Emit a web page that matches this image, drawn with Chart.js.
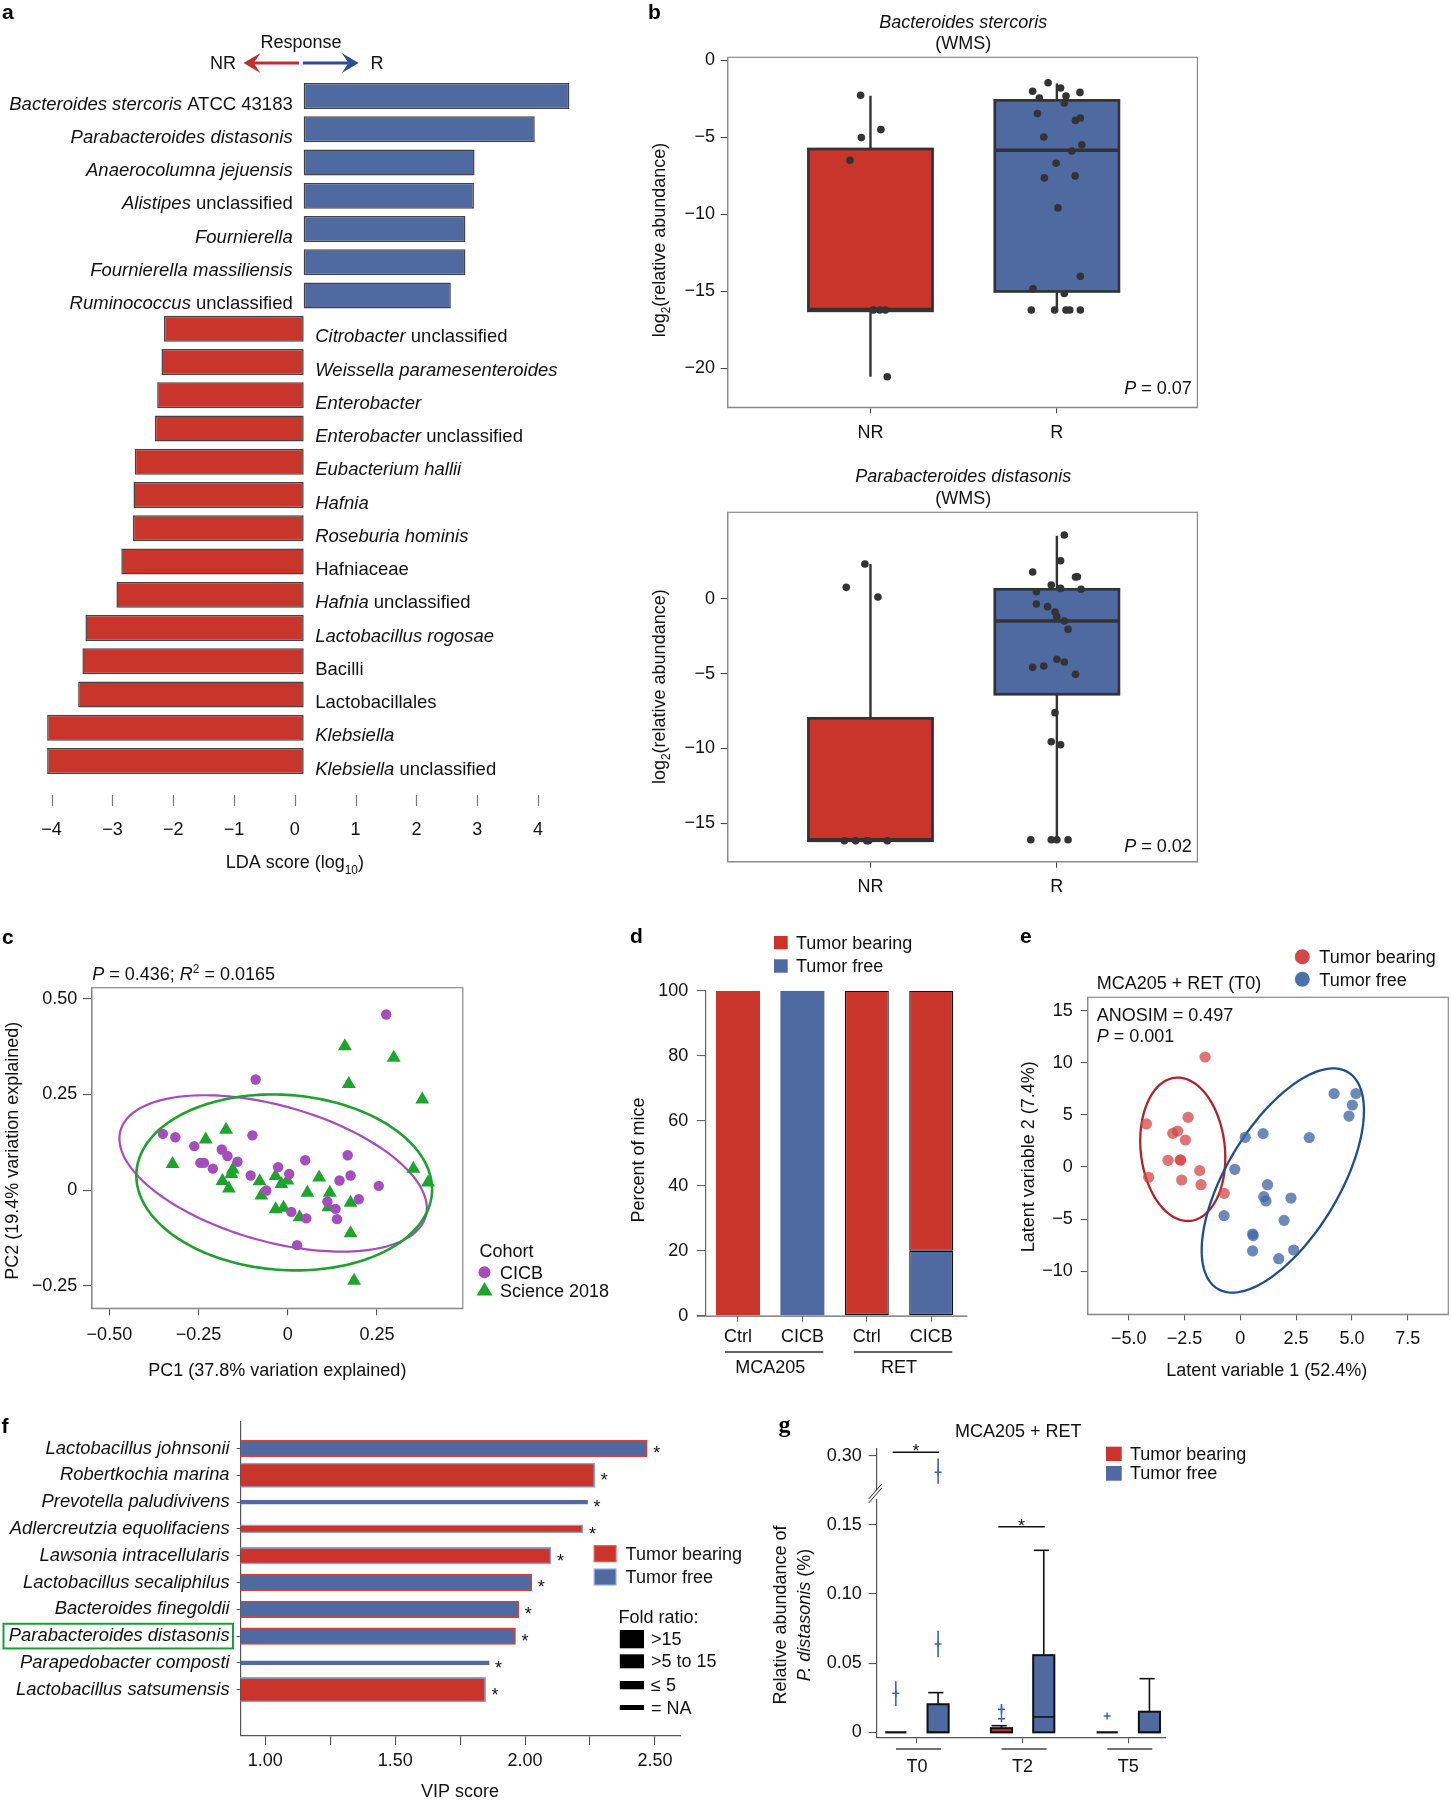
<!DOCTYPE html>
<html><head><meta charset="utf-8">
<script src="https://cdn.jsdelivr.net/npm/chart.js@4.4.1/dist/chart.umd.min.js"></script>
<style>
html,body{margin:0;padding:0;background:#fff;}
body{width:1451px;height:1800px;position:relative;overflow:hidden;}
canvas{position:absolute;}
</style></head><body>
<script>
// ================= DATA =================
// a: LEfSe LDA scores
const ldaTaxa = ["*Bacteroides stercoris* ATCC 43183","*Parabacteroides distasonis*","*Anaerocolumna jejuensis*","*Alistipes* unclassified","*Fournierella*","*Fournierella massiliensis*","*Ruminococcus* unclassified","*Citrobacter* unclassified","*Weissella paramesenteroides*","*Enterobacter*","*Enterobacter* unclassified","*Eubacterium hallii*","*Hafnia*","*Roseburia hominis*","Hafniaceae","*Hafnia* unclassified","*Lactobacillus rogosae*","Bacilli","Lactobacillales","*Klebsiella*","*Klebsiella* unclassified"];
const ldaScores = [4.37,3.80,2.81,2.80,2.66,2.66,2.42,-2.30,-2.34,-2.41,-2.45,-2.78,-2.80,-2.81,-3.00,-3.08,-3.59,-3.64,-3.71,-4.22,-4.22];
const ldaTicks = [-4,-3,-2,-1,0,1,2,3,4];

// b: box plots  [low whisker, q1, median, q3, high whisker]  for NR, R
const bGroups = ["NR","R"];
const bsBox = [[-20.56,-16.28,-16.2,-5.76,-2.3],[-16.23,-15.02,-5.84,-2.6,-1.5]];
const bsNRpts = [[-0.053,-2.27],[0.056,-4.5],[-0.049,-5.02],[-0.11,-6.49],[0.015,-16.23],[0.05,-16.23],[0.08,-16.23],[0.09,-20.56]];
const bsRpts = [[-0.047,-1.45],[-0.13,-2.01],[0.02,-1.8],[0.124,-2.08],[-0.094,-2.45],[0.049,-2.32],[0.04,-2.77],[-0.104,-3.46],[0.1,-3.9],[0.126,-3.75],[-0.07,-4.98],[0.134,-5.48],[0.08,-5.89],[-0.004,-6.69],[-0.067,-7.64],[0.098,-7.51],[0.006,-9.59],[0.126,-14.03],[-0.128,-14.85],[0.04,-15.15],[-0.137,-16.23],[-0.012,-16.23],[0.049,-16.23],[0.069,-16.23],[0.126,-16.23]];
const bsTicks = [0,-5,-10,-15,-20];
const pdBox = [[-16.17,-16.17,-16.1,-7.98,2.34],[-16.17,-6.37,-1.47,0.65,4.23]];
const pdNRpts = [[-0.13,0.78],[-0.03,2.34],[0.04,0.13],[-0.14,-16.17],[-0.08,-16.17],[-0.02,-16.17],[-0.01,-16.17],[0.09,-16.17]];
const pdRpts = [[0.04,4.28],[0.02,2.56],[-0.13,1.81],[0.1,1.47],[0.11,1.49],[-0.03,0.94],[0.02,0.71],[-0.11,0.49],[0.13,0.65],[-0.11,-0.33],[-0.05,-0.51],[-0.01,-0.87],[0,-1.18],[0.04,-1.47],[0.06,-2.03],[0,-4.03],[0.04,-4.21],[-0.13,-4.57],[-0.07,-4.48],[0.1,-5.04],[-0.01,-7.6],[-0.03,-9.55],[0.02,-9.75],[-0.14,-16.1],[-0.03,-16.1],[0,-16.1],[0.06,-16.1]];
const pdTicks = [0,-5,-10,-15];

// c: PCoA
const cicbPC = [[0.276,0.459],[-0.090,0.289],[-0.350,0.147],[-0.315,0.138],[-0.262,0.115],[-0.185,0.106],[-0.169,0.089],[-0.141,0.074],[-0.245,0.071],[-0.235,0.071],[-0.210,0.056],[-0.099,0.143],[-0.104,0.038],[-0.027,0.060],[0.004,0.042],[0.049,0.078],[0.168,0.091],[0.176,0.038],[0.145,0.025],[0.255,0.011],[0.199,-0.024],[0.111,-0.030],[0.134,-0.049],[0.138,-0.076],[-0.060,-0.001],[0.010,-0.057],[0.052,-0.074],[0.026,-0.144]];
const sciPC = [[0.160,0.376],[0.297,0.346],[0.171,0.277],[0.377,0.237],[-0.173,0.158],[-0.230,0.132],[-0.323,0.068],[-0.154,0.054],[-0.158,0.042],[-0.183,0.024],[-0.165,0.004],[-0.079,0.023],[-0.074,-0.014],[-0.034,0.037],[-0.018,0.016],[-0.001,0.025],[0.088,0.033],[0.055,-0.007],[0.118,-0.007],[0.176,-0.033],[-0.034,-0.050],[-0.012,-0.046],[0.033,-0.071],[0.114,-0.045],[0.176,-0.113],[0.352,0.056],[0.393,0.020],[0.186,-0.237]];
// ellipse: [cx, cy, u_x, u_y, v_x, v_y] (conjugate semi-axes, data units)
const cicbEllipse = [-0.041,0.0435,0.424,-0.122,-0.0762,-0.164];
const sciEllipse = [-0.010,0.020,0.414,-0.007,0.020,-0.2298];
const cTicksX = [-0.5,-0.25,0,0.25];
const cTicksY = [0.5,0.25,0,-0.25];

// d: stacked percent
const dCats = ["Ctrl","CICB","Ctrl","CICB"];
const dModels = ["MCA205","RET"];
const dTumorBearing = [100,0,100,80];
const dTumorFree = [0,100,0,20];
const dTicks = [0,20,40,60,80,100];

// e: PLS-DA
const eBearing = [[-1.58,10.56],[-4.21,4.13],[-2.34,4.77],[-3.03,3.23],[-2.81,3.45],[-2.46,2.59],[-3.24,0.64],[-2.70,0.67],[-2.67,0.67],[-4.11,-0.99],[-1.82,-0.35],[-2.63,-1.25],[-1.76,-1.70],[-0.72,-2.53]];
const eFree = [[4.20,7.04],[5.18,7.04],[5.02,5.95],[4.87,4.89],[0.22,2.85],[1.02,3.20],[3.09,2.82],[-0.25,-0.22],[1.22,-1.70],[1.05,-2.85],[1.15,-3.26],[2.27,-2.98],[-0.73,-4.67],[1.96,-5.12],[0.55,-6.43],[0.58,-6.59],[0.55,-8.06],[1.72,-8.80],[2.39,-7.97]];
const eBearingEllipse = [-2.58,1.70,1.897,-0.16,0.179,-6.88];
const eFreeEllipse = [1.904,-1.296,2.846,0,2.263,10.76];
const eTicksX = [-5,-2.5,0,2.5,5,7.5];
const eTicksY = [15,10,5,0,-5,-10];

// f: VIP scores
const vipTaxa = ["Lactobacillus johnsonii","Robertkochia marina","Prevotella paludivivens","Adlercreutzia equolifaciens","Lawsonia intracellularis","Lactobacillus secaliphilus","Bacteroides finegoldii","Parabacteroides distasonis","Parapedobacter composti","Lactobacillus satsumensis"];
const vipScores = [2.470,2.268,2.240,2.223,2.100,2.026,1.976,1.963,1.861,1.848];
const vipGroup = ["free","bearing","free","bearing","bearing","free","free","free","free","bearing"];
const vipFold = [">5 to 15",">15","= NA","≤ 5",">5 to 15",">5 to 15",">5 to 15",">5 to 15","= NA",">15"];
const foldClasses = [">15",">5 to 15","≤ 5","= NA"];
const vipHighlight = "Parabacteroides distasonis";
const vipTicks = [1,1.25,1.5,1.75,2,2.25,2.5];
const vipLabelled = [1,1.5,2,2.5];

// g: P. distasonis relative abundance  [low, q1, median, q3, high]
const gTimes = ["T0","T2","T5"];
const gBearingBox = [[0,0,0,0,0],[0,0,0,0.003,0.0048],[0,0,0,0,0]];
const gFreeBox = [[0,0,0,0.0203,0.0287],[0,0,0.0111,0.0558,0.1316],[0,0,0,0.0149,0.0388]];
// [time index, group (0 bearing, 1 free), value, low, high]
const gOutliers = [[0,0,0.0283,0.019,0.037],[0,1,0.0638,0.0543,0.0734],[0,1,0.288,0.2795,0.298],[1,0,0.0167,0.0125,0.0205],[1,0,0.0099,0.0099,0.0099],[2,0,0.0118,0.0118,0.0118]];
const gTicksLow = [0,0.05,0.10,0.15];
const gTicksHigh = [0.30];
const gSignif = [[0,0.3027,'yTop'],[1,0.1486,'yBot']];

// ================= STYLE / HELPERS =================
const FONT = '"Liberation Sans", Arial, Helvetica, sans-serif';
const RED = '#C9352B', BLUE = '#4F69A1';
Chart.defaults.font.family = FONT;
Chart.defaults.font.size = 18;
Chart.defaults.color = '#111';
Chart.defaults.animation = false;
Chart.defaults.events = [];
Chart.defaults.plugins.legend.display = false;
Chart.defaults.plugins.tooltip.enabled = false;

function mk(l,t,w,h){ const c=document.createElement('canvas'); c.width=w; c.height=h; Object.assign(c.style,{left:l+'px',top:t+'px',width:w+'px',height:h+'px'}); document.body.appendChild(c); return c; }
function num(v,d){ if(Math.abs(v)<1e-9) return '0'; return (v<0?'\u2212':'')+Math.abs(v).toFixed(d); }
function zeroPad(s){ s.paddingLeft=0; s.paddingRight=0; s.paddingTop=0; s.paddingBottom=0; }
function lin(o){
  const s = {
    type: o.type||'linear', min:o.min, max:o.max, reverse:!!o.reverse, position:o.position,
    stack:o.stack, stackWeight:o.stackWeight, offset:!!o.offset,
    grid:{display:!!o.tl, drawOnChartArea:false, drawTicks:!!o.tl, tickLength:o.tl||0, color:o.tickColor||'#555', lineWidth:1.1, offset:false},
    border:{display:o.border!==false, color:o.borderColor||'#555', width:1.2},
    ticks:{display:o.showTicks!==false, padding:o.pad||0, labelOffset:o.labelOffset||0, font:o.font||{size:18}, color:'#111', callback:o.cb, autoSkip:false, maxRotation:0, minRotation:0},
    afterFit: (o.w!=null) ? (sc=>{sc.width=o.w; zeroPad(sc);}) : (sc=>{sc.height=o.h; zeroPad(sc);})
  };
  if (o.ticksAt) s.afterBuildTicks = sc => { sc.ticks = o.ticksAt.map(v=>({value:v})); };
  Object.keys(s).forEach(k=>{ if(s[k]===undefined) delete s[k]; });
  if (s.ticks.callback===undefined) delete s.ticks.callback;
  return s;
}
function opts(pad, scales, extra){ return Object.assign({responsive:false, maintainAspectRatio:false, devicePixelRatio:1, layout:{padding:pad, autoPadding:false}, scales}, extra||{}); }

function parseRich(s){
  const segs=[]; let it=false, buf='', i=0;
  const push=()=>{ if(buf){ segs.push({t:buf,it,sc:0}); buf=''; } };
  while(i<s.length){ const c=s[i];
    if(c==='*'){ push(); it=!it; i++; }
    else if((c==='_'||c==='^') && s[i+1]==='{'){ push(); const j=s.indexOf('}',i); segs.push({t:s.slice(i+2,j),it,sc:c==='_'?-1:1}); i=j+1; }
    else { buf+=c; i++; } }
  push(); return segs;
}
function rich(ctx,s,x,y,o={}){
  const size=o.size||18, segs=parseRich(s);
  ctx.save(); ctx.fillStyle=o.color||'#111'; ctx.textBaseline='alphabetic'; ctx.textAlign='left';
  const font=sg=>`${sg.it?'italic ':''}${o.bold?'bold ':''}${sg.sc?size*0.66:size}px ${o.family||FONT}`;
  let w=0; segs.forEach(sg=>{ ctx.font=font(sg); sg.w=ctx.measureText(sg.t).width; w+=sg.w; });
  ctx.translate(x,y); if(o.rot) ctx.rotate(o.rot);
  let cx = o.align==='right' ? -w : o.align==='center' ? -w/2 : 0;
  const base=size*0.36;
  segs.forEach(sg=>{ ctx.font=font(sg); const dy = sg.sc===-1 ? size*0.28 : sg.sc===1 ? -size*0.4 : 0; ctx.fillText(sg.t,cx,base+dy); cx+=sg.w; });
  ctx.restore(); return w;
}
function frame(ch,color){ const a=ch.chartArea, c=ch.ctx; c.save(); c.strokeStyle=color||'#8a8a8a'; c.lineWidth=1.2; c.strokeRect(a.left,a.top,a.right-a.left,a.bottom-a.top); c.restore(); }
function ellipse(ctx,xs,ys,e,color,lw){ ctx.save(); ctx.strokeStyle=color; ctx.lineWidth=lw; ctx.beginPath();
  for(let i=0;i<=200;i++){ const t=i/200*2*Math.PI; const X=e[0]+e[2]*Math.cos(t)+e[4]*Math.sin(t), Y=e[1]+e[3]*Math.cos(t)+e[5]*Math.sin(t);
    const px=xs.getPixelForValue(X), py=ys.getPixelForValue(Y); i?ctx.lineTo(px,py):ctx.moveTo(px,py); }
  ctx.closePath(); ctx.stroke(); ctx.restore(); }
function line(ctx,x1,y1,x2,y2){ ctx.beginPath(); ctx.moveTo(x1,y1); ctx.lineTo(x2,y2); ctx.stroke(); }
const toPts = (arr,xc)=>arr.map(([dx,y])=>({x:xc+dx,y}));
const xy = arr=>arr.map(([x,y])=>({x,y}));

// ================= PANEL a =================
const aPlug = { id:'aPlug', afterDatasetsDraw(ch){
  const {ctx, scales:{x,y}} = ch; const x0=x.getPixelForValue(0);
  ldaScores.forEach((v,i)=>{ const yy=y.getPixelForValue(i)+7;
    rich(ctx, ldaTaxa[i], v>0? x0-11 : x0+11.5, yy, {align: v>0?'right':'left', size:18.5}); });
  ctx.save(); ctx.strokeStyle='#777'; ctx.lineWidth=1.2;
  ldaTicks.forEach(t=>{ const px=Math.round(x.getPixelForValue(t)-8.9)+0.5; line(ctx,px,795,px,806); });
  ctx.restore();
}};
new Chart(mk(0,0,600,900), {
  type:'bar',
  data:{labels:ldaTaxa.map(s=>s.replace(/\*/g,'')), datasets:[{data:ldaScores, backgroundColor:ldaScores.map(v=>v>0?BLUE:RED), borderColor:'#444', borderWidth:1.5, borderSkipped:false, barPercentage:0.782, categoryPercentage:1}]},
  options: opts({left:36.2,right:22.7,top:79.4,bottom:0}, {
    y:{type:'category', display:false, offset:true},
    x: lin({min:-4.4, max:4.5, ticksAt:ldaTicks, tl:0, border:false, pad:41.6, labelOffset:-8.9, cb:v=>num(v,0), h:122.4})
  }, {indexAxis:'y'}),
  plugins:[aPlug]
});

// ================= PANEL b =================
function drawBoxB(ctx,x,y,xc,hw,st,fill){
  const [lo,q1,med,q3,hi]=st; const L=x.getPixelForValue(xc-hw), R=x.getPixelForValue(xc+hw), C=x.getPixelForValue(xc);
  ctx.save(); ctx.strokeStyle='#333'; ctx.lineWidth=2.4;
  line(ctx,C,y.getPixelForValue(hi),C,y.getPixelForValue(q3)); line(ctx,C,y.getPixelForValue(q1),C,y.getPixelForValue(lo));
  const T=y.getPixelForValue(q3), B=y.getPixelForValue(q1);
  ctx.fillStyle=fill; ctx.fillRect(L,T,R-L,B-T); ctx.lineWidth=2.7; ctx.strokeRect(L,T,R-L,B-T);
  ctx.lineWidth=3.6; const M=y.getPixelForValue(med); line(ctx,L,M,R,M); ctx.restore();
}
function boxPlugB(boxes){ return { id:'boxb', beforeDatasetsDraw(ch){ const {ctx,scales:{x,y}}=ch; boxes.forEach((st,i)=>drawBoxB(ctx,x,y,i+1,0.333,st,[RED,BLUE][i])); }, afterDraw(ch){ frame(ch,'#8a8a8a'); } }; }
function bChart(top, padTop, xh, ymin, ymax, ticks, box, nr, r){
  new Chart(mk(630,top,600,450), { type:'scatter',
    data:{datasets:[{data:toPts(nr,1).concat(toPts(r,2)), backgroundColor:'#333', pointRadius:3.8, borderWidth:0}]},
    options: opts({left:0,right:32.6,top:padTop,bottom:0}, {
      x: lin({min:0.234, max:2.754, ticksAt:[1,2], tl:6, pad:8.6, cb:v=>bGroups[v-1], h:xh, tickColor:'#444', borderColor:'#8a8a8a'}),
      y: lin({min:ymin, max:ymax, ticksAt:ticks, tl:7, pad:5.7, cb:v=>num(v,0), w:97.7, tickColor:'#444', borderColor:'#8a8a8a'})
    }),
    plugins:[boxPlugB(box)]
  });
}
bChart(0, 57.3, 42.7, -22.55, 0.2, bsTicks, bsBox, bsNRpts, bsRpts);
bChart(450, 62.3, 38.3, -17.57, 5.80, pdTicks, pdBox, pdNRpts, pdRpts);

// ================= PANEL c =================
const PURPLE='#A64DBE', GREEN='#1DA52B';
new Chart(mk(0,920,620,480), { type:'scatter',
  data:{datasets:[
    {data:xy(cicbPC), pointStyle:'circle', pointRadius:5.2, backgroundColor:PURPLE, borderWidth:0},
    {data:xy(sciPC), pointStyle:'triangle', pointRadius:8, backgroundColor:GREEN, borderWidth:0}
  ]},
  options: opts({left:0,right:157.2,top:67.7,bottom:0}, {
    x: lin({min:-0.549, max:0.4906, ticksAt:cTicksX, tl:7, pad:8.9, cb:v=>num(v,2), h:91.7, borderColor:'#8a8a8a'}),
    y: lin({min:-0.309, max:0.529, ticksAt:cTicksY, tl:9, pad:5.6, cb:v=>num(v,2), w:91.9, borderColor:'#8a8a8a'})
  }),
  plugins:[{id:'cPlug', beforeDatasetsDraw(ch){ const {ctx,scales:{x,y}}=ch; ellipse(ctx,x,y,cicbEllipse,PURPLE,2.2); ellipse(ctx,x,y,sciEllipse,'#1FA030',2.6); }, afterDraw(ch){ frame(ch,'#8a8a8a'); }}]
});

// ================= PANEL d =================
new Chart(mk(620,920,380,480), { type:'bar',
  data:{labels:dCats, datasets:[
    {label:'Tumor free', data:dTumorFree, backgroundColor:BLUE, borderColor:c=>c.dataIndex>=2?'#111':BLUE, borderWidth:c=>c.dataIndex>=2?1.3:0, borderSkipped:false, barPercentage:0.683, categoryPercentage:1},
    {label:'Tumor bearing', data:dTumorBearing, backgroundColor:RED, borderColor:c=>c.dataIndex>=2?'#111':RED, borderWidth:c=>c.dataIndex>=2?1.3:0, borderSkipped:false, barPercentage:0.683, categoryPercentage:1}
  ]},
  options: opts({left:0,right:36.6,top:70.7,bottom:0}, {
    x: Object.assign(lin({type:'category', offset:true, tl:6, pad:4.5, h:84.3, border:false, tickColor:'#666'}), {stacked:true}),
    y: Object.assign(lin({min:0, max:100, ticksAt:dTicks, tl:9, pad:8.5, cb:v=>String(v), w:85.8, borderColor:'#666', tickColor:'#666'}), {stacked:true})
  }),
  plugins:[{id:'dPlug', afterDraw(ch){ const {ctx,chartArea:a,scales:{x}}=ch; ctx.save();
    ctx.strokeStyle='#666'; ctx.lineWidth=1.3; line(ctx,a.left-9,a.bottom+0.5,a.right+4,a.bottom+0.5);
    dModels.forEach((g,k)=>{ const x1=x.getPixelForValue(2*k)-13, x2=x.getPixelForValue(2*k+1)+21;
      ctx.strokeStyle='#333'; ctx.lineWidth=1.6; line(ctx,x1,a.bottom+36.3,x2,a.bottom+36.3);
      rich(ctx,g,(x1+x2)/2-4,a.bottom+51,{align:'center'}); });
    ctx.restore(); }}]
});

// ================= PANEL e =================
new Chart(mk(1000,920,451,480), { type:'scatter',
  data:{datasets:[
    {data:xy(eBearing), pointRadius:5.6, backgroundColor:'rgba(212,70,70,0.75)', borderWidth:0},
    {data:xy(eFree), pointRadius:5.6, backgroundColor:'rgba(66,104,165,0.78)', borderWidth:0}
  ]},
  options: opts({left:0,right:2.7,top:77.3,bottom:0}, {
    x: lin({min:-6.84, max:9.32, ticksAt:eTicksX, tl:6, pad:8.2, cb:v=>num(v,1), h:85.7, borderColor:'#8a8a8a'}),
    y: lin({min:-14.14, max:16.29, ticksAt:eTicksY, tl:7, pad:8, cb:v=>num(v,0), w:87.7, borderColor:'#8a8a8a'})
  }),
  plugins:[{id:'ePlug', beforeDatasetsDraw(ch){ const {ctx,scales:{x,y}}=ch; ellipse(ctx,x,y,eBearingEllipse,'#B2222A',2.3); ellipse(ctx,x,y,eFreeEllipse,'#1F4E8C',2.3); }, afterDraw(ch){ frame(ch,'#8a8a8a'); }}]
});

// ================= PANEL f =================
const foldThickness = [24.5,16.6,8.3,3.7];
new Chart(mk(0,1400,760,400), { type:'bar',
  data:{datasets: foldClasses.map((fc,k)=>{
    const rows = vipScores.map((v,i)=>i).filter(i=>vipFold[i]===fc);
    return { data: rows.map(i=>({x:vipScores[i], y:i+1})), stack:'vip', barThickness:foldThickness[k],
      backgroundColor: rows.map(i=>vipGroup[i]==='free'?BLUE:RED),
      borderColor: rows.map(i=> k===3 ? (vipGroup[i]==='free'?BLUE:RED) : (vipGroup[i]==='free'?'#D8403A':'#7FA6DA')),
      borderWidth: k===3?0:1.6, borderSkipped:false };
  })},
  options: opts({left:0,right:79.8,top:21.7,bottom:0}, {
    y: lin({min:0, max:11.73, reverse:true, ticksAt:vipTaxa.map((t,i)=>i+1), tl:4, pad:7, cb:v=>vipTaxa[v-1], w:240.6, font:{size:18.4, style:'italic'}, borderColor:'#555'}),
    x: lin({min:0.905, max:2.597, ticksAt:vipTicks, tl:9, pad:4.9, cb:v=>vipLabelled.includes(v)?v.toFixed(2):'', h:64, borderColor:'#555'})
  }, {indexAxis:'y'}),
  plugins:[{id:'fPlug', afterDatasetsDraw(ch){ const {ctx,chartArea:a,scales:{x,y}}=ch; ctx.save();
    ctx.fillStyle='#111'; ctx.font=`18px ${FONT}`; ctx.textBaseline='alphabetic';
    vipScores.forEach((v,i)=>{ ctx.fillText('*', x.getPixelForValue(v)+6, y.getPixelForValue(i+1)+11); });
    const hi=vipTaxa.indexOf(vipHighlight); const py=y.getPixelForValue(hi+1);
    ctx.font=`italic 18.4px ${FONT}`; const w=ctx.measureText(vipHighlight).width; const right=a.left-11;
    ctx.strokeStyle='#1E9E3A'; ctx.lineWidth=2; ctx.strokeRect(right-w-5.3, py-12.3, w+8.7, 24.7);
    ctx.restore(); }}]
});

// ================= PANEL g =================
function drawBoxG(ctx,x,y,xc,hw,st,fill){
  const [lo,q1,med,q3,hi]=st; const L=x.getPixelForValue(xc-hw), R=x.getPixelForValue(xc+hw), C=x.getPixelForValue(xc);
  ctx.save(); ctx.strokeStyle='#111'; ctx.lineWidth=1.6;
  const T=y.getPixelForValue(q3), B=y.getPixelForValue(q1);
  if (hi>q3){ const H=y.getPixelForValue(hi); line(ctx,C,T,C,H); line(ctx,L+(R-L)*0.03,H,L+(R-L)*0.75,H); }
  if (Math.abs(B-T)<0.5){ ctx.lineWidth=2.2; line(ctx,L,T,R,T); }
  else { ctx.fillStyle=fill; ctx.fillRect(L,T,R-L,B-T); ctx.lineWidth=2; ctx.strokeRect(L,T,R-L,B-T); ctx.lineWidth=1.6; const M=y.getPixelForValue(med); line(ctx,L,M,R,M); }
  ctx.restore();
}
const gOff = [-0.2, 0.2];
new Chart(mk(760,1400,520,400), { type:'scatter',
  data:{datasets:[
    {data:gOutliers.filter(o=>o[2]<0.2).map(o=>({x:o[0]+1+gOff[o[1]], y:o[2]})), yAxisID:'yBot', pointStyle:'cross', pointRadius:3.5, borderColor:'#3D63C0', borderWidth:1.5},
    {data:gOutliers.filter(o=>o[2]>=0.2).map(o=>({x:o[0]+1+gOff[o[1]], y:o[2]})), yAxisID:'yTop', pointStyle:'cross', pointRadius:3.5, borderColor:'#3D63C0', borderWidth:1.5}
  ]},
  options: opts({left:0,right:114.3,top:49,bottom:0}, {
    x: lin({min:0.619, max:3.354, ticksAt:[1,2,3], tl:6, pad:12.6, cb:v=>gTimes[v-1], h:62.7, borderColor:'#555'}),
    yBot: lin({position:'left', stack:'g', stackWeight:237.3, min:-0.0036, max:0.168, ticksAt:gTicksLow, tl:8, pad:7, cb:v=>v===0?'0':v.toFixed(2), w:116.7, borderColor:'#555'}),
    yGap: lin({position:'left', stack:'g', stackWeight:10, min:0, max:1, tl:0, border:false, showTicks:false, w:116.7}),
    yTop: lin({position:'left', stack:'g', stackWeight:41, min:0.275, max:0.305, ticksAt:gTicksHigh, tl:8, pad:7, cb:v=>v.toFixed(2), w:116.7, borderColor:'#555'})
  }),
  plugins:[{id:'gPlug',
    beforeDatasetsDraw(ch){ const {ctx,scales:{x,yBot}}=ch;
      gTimes.forEach((t,i)=>{ drawBoxG(ctx,x,yBot,i+1+gOff[0],0.1,gBearingBox[i],RED); drawBoxG(ctx,x,yBot,i+1+gOff[1],0.1,gFreeBox[i],BLUE); });
      ctx.save(); ctx.strokeStyle='#3D63C0'; ctx.lineWidth=1.6;
      gOutliers.forEach(o=>{ const ys = o[2]>=0.2 ? ch.scales.yTop : yBot; const px=x.getPixelForValue(o[0]+1+gOff[o[1]]);
        if (o[4]>o[3]) line(ctx,px,ys.getPixelForValue(o[3]),px,ys.getPixelForValue(o[4])); });
      ctx.restore(); },
    afterDraw(ch){ const {ctx,chartArea:a,scales:{x,yTop,yBot}}=ch; ctx.save();
      ctx.strokeStyle='#111'; ctx.lineWidth=1.5;
      gSignif.forEach(([ti,v,ax])=>{ const s=ch.scales[ax]; const py=s.getPixelForValue(v); const x1=x.getPixelForValue(ti+1-0.23), x2=x.getPixelForValue(ti+1+0.21);
        line(ctx,x1,py,x2,py); ctx.fillStyle='#111'; ctx.font=`18px ${FONT}`; ctx.textAlign='center'; ctx.fillText('*',(x1+x2)/2,py+5); });
      gTimes.forEach((t,i)=>{ const c=x.getPixelForValue(i+1); ctx.strokeStyle='#444'; ctx.lineWidth=1.5; line(ctx,c-21,a.bottom+11.7,c+24,a.bottom+11.7); });
      // axis break marks
      const top = Math.min(yTop.bottom, yBot.bottom), bot = Math.max(yTop.top, yBot.top);
      const gx=a.left, g1=Math.min(yTop.bottom, yBot.top), g2=Math.max(yTop.bottom, yBot.top);
      ctx.strokeStyle='#444'; ctx.lineWidth=1.1;
      line(ctx,gx-8,g2-1,gx+5,g1-6); line(ctx,gx-8,g2+3,gx+5,g1-2);
      ctx.restore(); }}]
});

// ================= OVERLAY TEXT =================
const ov = mk(0,0,1451,1800); ov.style.zIndex=10; const o = ov.getContext('2d');
function T(s,x,y,align,extra){ return rich(o,s,x,y,Object.assign({align:align||'left'},extra||{})); }
function letter(s,x,y,serif){ o.save(); o.fillStyle='#000'; o.font = serif ? `bold 24px "Liberation Serif", "DejaVu Serif", serif` : `bold 21px ${FONT}`; o.textBaseline='alphabetic'; o.fillText(s,x,y); o.restore(); }
function arrow(x1,x2,y,color){ const d=Math.sign(x2-x1), hl=17, hw=10; o.save(); o.strokeStyle=color; o.fillStyle=color; o.lineWidth=3;
  line(o,x1,y,x2-d*hl*0.6,y); o.beginPath(); o.moveTo(x2,y); o.lineTo(x2-d*hl,y-hw); o.lineTo(x2-d*hl*0.6,y); o.lineTo(x2-d*hl,y+hw); o.closePath(); o.fill(); o.restore(); }
const ROT = -Math.PI/2;
// a
letter('a',2,18.5);
T('Response',301,42,'center');
T('NR',223,63,'center'); T('R',377,63,'center');
arrow(299,243.5,63,'#C0302A'); arrow(303,358.7,63,'#2A4E93');
T('LDA score (log_{10})',294.8,862,'center');
// b
letter('b',648,18.5);
T('*Bacteroides stercoris*',963.3,22,'center'); T('(WMS)',963.3,43,'center');
T('*Parabacteroides distasonis*',963.3,476,'center'); T('(WMS)',963.3,498,'center');
T('log_{2}(relative abundance)',658.4,240,'center',{rot:ROT});
T('log_{2}(relative abundance)',658.4,686.7,'center',{rot:ROT});
T('*P* = 0.07',1191.7,388,'right'); T('*P* = 0.02',1191.7,846,'right');
// c
letter('c',2,943.5);
T('*P* = 0.436; *R*^{2} = 0.0165',92.3,974,'left');
T('Cohort',479.4,1251,'left');
o.save(); o.fillStyle=PURPLE; o.beginPath(); o.arc(484.5,1272.3,6,0,2*Math.PI); o.fill();
o.fillStyle=GREEN; o.beginPath(); o.moveTo(484.5,1282); o.lineTo(492.5,1295.5); o.lineTo(476.5,1295.5); o.closePath(); o.fill(); o.restore();
T('CICB',500,1272.3,'left'); T('Science 2018',500,1290.5,'left');
T('PC1 (37.8% variation explained)',277.3,1370,'center');
T('PC2 (19.4% variation explained)',12,1150.8,'center',{rot:ROT});
// d
letter('d',630,943);
o.save(); o.fillStyle=RED; o.fillRect(774,936,13.7,13.3); o.fillStyle=BLUE; o.fillRect(774,959.3,13.7,13.4); o.restore();
T('Tumor bearing',796,943,'left'); T('Tumor free',796,966,'left');
T('Percent of mice',638,1160,'center',{rot:ROT});
// e
letter('e',1020,943);
T('MCA205 + RET (T0)',1096.7,983,'left');
o.save(); o.fillStyle='rgba(212,60,60,0.95)'; o.beginPath(); o.arc(1302.3,956.7,7.5,0,2*Math.PI); o.fill();
o.fillStyle='rgba(66,104,165,0.95)'; o.beginPath(); o.arc(1302.3,979.3,7.5,0,2*Math.PI); o.fill(); o.restore();
T('Tumor bearing',1319.3,956.7,'left'); T('Tumor free',1319.3,979.3,'left');
T('ANOSIM = 0.497',1096.7,1015,'left'); T('*P* = 0.001',1096.7,1035.7,'left');
T('Latent variable 1 (52.4%)',1266.7,1370,'center');
T('Latent variable 2 (7.4%)',1028,1156.7,'center',{rot:ROT});
// f
letter('f',1.5,1433);
o.save(); o.fillStyle=RED; o.fillRect(594.2,1545.7,21.8,16); o.strokeStyle='#E05A50'; o.lineWidth=1.2; o.strokeRect(594.2,1545.7,21.8,16);
o.fillStyle=BLUE; o.fillRect(594.2,1569,21.8,16); o.strokeStyle='#8FB0E0'; o.strokeRect(594.2,1569,21.8,16);
o.fillStyle='#000'; o.fillRect(619.8,1630,24.2,18.3); o.fillRect(619.8,1654.3,24.2,14); o.fillRect(619.8,1681,24.2,8.3); o.fillRect(619.8,1705,24.2,5); o.restore();
T('Tumor bearing',625.6,1554,'left'); T('Tumor free',625.6,1577,'left');
T('Fold ratio:',618.4,1617,'left');
T('>15',651,1639,'left'); T('>5 to 15',651,1661,'left'); T('\u2264 5',651,1685,'left'); T('= NA',651,1707.5,'left');
T('VIP score',460,1791,'center');
// g
letter('g',778.5,1432,true);
T('MCA205 + RET',1018.3,1430.7,'center');
o.save(); o.fillStyle=RED; o.fillRect(1106,1446.7,15.7,14.3); o.fillStyle=BLUE; o.fillRect(1106,1466,15.7,14.7); o.restore();
T('Tumor bearing',1130,1454,'left'); T('Tumor free',1130,1473,'left');
T('Relative abundance of',780,1615,'center',{rot:ROT});
T('*P. distasonis* (%)',803.3,1615,'center',{rot:ROT});
</script>
</body></html>
